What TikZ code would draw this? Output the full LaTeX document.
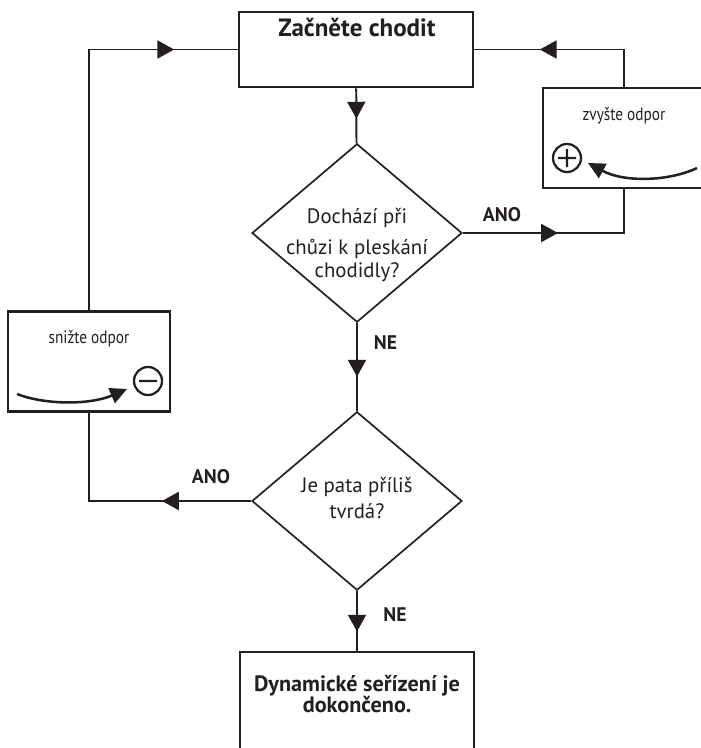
\documentclass[tikz,border=0pt]{standalone}
\usepackage{fontspec}
\setmainfont{PT Sans}
\newfontfamily\narrowfont[FakeStretch=0.85]{PT Sans}
\usetikzlibrary{arrows.meta,positioning,shapes.geometric,decorations.markings}
\definecolor{ink}{HTML}{231F20}

\begin{document}
\begin{tikzpicture}[
  x=0.025cm, y=-0.025cm,
  color=ink,
  bigbox/.style={draw,line width=1.9pt,minimum width=5.85cm,minimum height=1.875cm},
  sidebox/.style={draw,line width=1.6pt,minimum width=4.05cm,minimum height=2.5cm},
  query/.style={draw,diamond,line width=1.2pt,minimum width=5.25cm,minimum height=4.46cm,inner sep=0pt},
  flow/.style={draw,line width=1.4pt},
  mid/.style={postaction={decorate},decoration={markings,
    mark=at position #1 with {\arrow{Triangle[length=0.42cm,width=0.45cm]}}}},
  turn/.style={line width=1.8pt,-{Triangle[length=0.42cm,width=0.4cm]}},
  answer/.style={font=\bfseries\fontsize{14}{16}\selectfont},
  qtext/.style={align=center,font=\fontsize{14.8}{17}\selectfont},
  sidetext/.style={anchor=base,font=\narrowfont\fontsize{12.8}{15}\selectfont}
]
\useasboundingbox (0,0) rectangle (701,748);

% main column
\node[bigbox] (start) at (356,49.5) {};
\node[anchor=base,font=\bfseries\fontsize{17.8}{20}\selectfont] (starttext) at (357,37) {Začněte chodit};
\node[query] (q1) at (357,233) {};
\node[qtext] (q1text) at (357,245) {Dochází při\\[5pt]chůzi k pleskání\\chodidly?};
\node[query] (q2) at (357,501) {};
\node[qtext,font=\fontsize{14.8}{17.8}\selectfont] (q2text) at (357,498) {Je pata příliš\\tvrdá?};
\node[bigbox,minimum height=2.8cm] (done) at (357,708) {};
\node[align=center,font=\bfseries\fontsize{15.8}{15.6}\selectfont] (donetext) at (357,694) {Dynamické seřízení je\\dokončeno.};

% side boxes
\node[sidebox] (more) at (624,138) {};
\node[sidetext] (moretext) at (624,121) {zvyšte odpor};
\node[sidebox] (less) at (89,361.5) {};
\node[sidetext] (lesstext) at (89,343) {snižte odpor};

\draw[line width=1.6pt] (567,158) circle[radius=0.35cm] (558,158) -- (576,158) (567,149) -- (567,167);
\draw[turn] (697,168) .. controls (670,181) and (625,183) .. (588,163);
\draw[line width=1.6pt] (148,381) circle[radius=0.35cm] (139,381) -- (157,381);
\draw[turn] (17,394) .. controls (45,405) and (90,405) .. (127,389);

% connectors
\draw[flow,mid=0.55] (start) -- (q1);
\draw[flow,mid=0.61] (q1) -- node[answer,pos=0.22,right=8pt] (no1) {NE} (q2);
\draw[flow,mid=0.68] (q2) -- (done);
\node[answer] (no2) at (395,615) {NE};

\draw[flow,mid=0.464] (q1.east) -| (more.south);
\node[answer] (yes1) at (502,215) {ANO};
\draw[flow,mid=0.65] (more.north) |- (start.east);

\draw[flow,mid=0.356] (q2.west) -| (less.south);
\node[answer] (yes2) at (211,477) {ANO};
\draw[flow,mid=0.845] (less.north) |- (start.west);
\end{tikzpicture}
\end{document}
